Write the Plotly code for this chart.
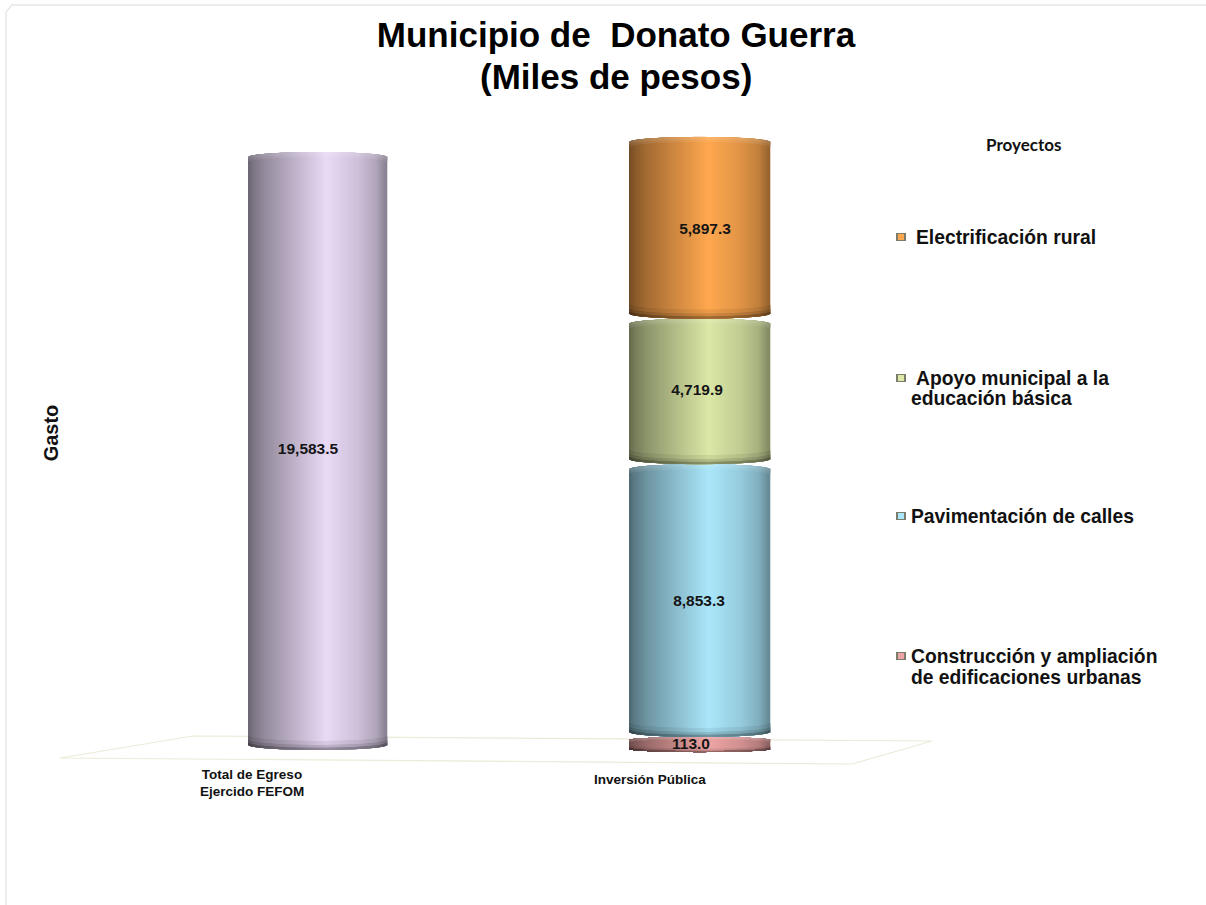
import numpy as np
import plotly.graph_objects as go

# ---------- data ----------
title_lines = ["Municipio de \u00a0Donato Guerra", "(Miles de pesos)"]
total_label = "Total de Egreso<br>Ejercido FEFOM"
public_label = "Inversión Pública"
total_value = 19583.5
project_values = [113.0, 8853.3, 4719.9, 5897.3]
project_colors = ["#eea4a4", "#aae7fb", "#dbe8a6", "#ffa84f"]
total_color = "#e9daf6"
legend_lines = [["Construcción y ampliación", "de edificaciones urbanas"],
                ["Pavimentación de calles"],
                ["Apoyo municipal a la", "educación básica"],
                ["Electrificación rural"]]

# ---------- layout helpers ----------
W, H = 1206, 905
L, R, T, B = 65, 36, 102, 141
K = 0.03082                 # px per unit
Y0_PX = 740.5               # px position of zero
X0_PX, X_UNIT = 318, 382    # px of first column and px per category
ARC = 5.0                   # px, curvature of the cylinder ends
PROFILE_T = [0, .04, .12, .3, .57, .8, .93, 1]
PROFILE_V = [.46, .54, .64, .79, 1.0, .88, .76, .60]


def px(xp):
    return (xp - L) / (W - L - R)


def py(yp):
    return (H - B - yp) / (H - T - B)


def hex_rgb(c):
    return np.array([int(c[i:i + 2], 16) for i in (1, 3, 5)], float)


def shade(c, strip, gain, white=0.0):
    rgb = hex_rgb(c)
    out = []
    for u in strip:
        v = np.interp((u + 1) / 2, PROFILE_T, PROFILE_V) * gain
        p = np.clip(rgb * v * (1 - white) + 255 * white, 0, 255).astype(int)
        out.append(f"rgb({p[0]},{p[1]},{p[2]})")
    return out


def cylinder(fig, cx, w_px, lo, hi, color):
    n = int(w_px)
    strip = np.linspace(-1, 1, n)
    h_px = (hi - lo) * K
    f = min(1.0, h_px / 40)
    r = ARC * max(f, .6) * (1 - np.sqrt(1 - strip ** 2 * .995)) / K
    xs = cx + strip * (w_px / 2 - .5) / X_UNIT
    sw = 1.6 / X_UNIT
    X, BASE, Y, C = [], [], [], []

    def add(base, height, col):
        X.extend(xs); BASE.extend(base); Y.extend(height); C.extend(col)

    add(lo + r, hi - lo - 2 * r, shade(color, strip, 1))
    add(hi - r - 5 * f / K, np.full(n, 5 * f / K), shade(color, strip, 1.0, .07))
    add(hi - r - 2.5 * f / K, np.full(n, 2.5 * f / K), shade(color, strip, 1.0, .14))
    add(lo + r, np.full(n, 9 * f / K), shade(color, strip, .93))
    add(lo + r, np.full(n, 5 * f / K), shade(color, strip, .82))
    add(lo + r, np.full(n, 2.2 * f / K), shade(color, strip, .64))
    fig.add_trace(go.Bar(x=X, y=Y, base=BASE, width=sw, marker=dict(color=C, line=dict(width=0)),
                         showlegend=False, hoverinfo="skip", cliponaxis=False))


fig = go.Figure()

# first column: slightly further back in the perspective
SHIFT_1, SCALE_1 = -308.0, 0.9907
cylinder(fig, 0, 138, SHIFT_1, SHIFT_1 + total_value * SCALE_1, total_color)

# stacked column
edges = np.concatenate([[0], np.cumsum(project_values)])
MIN_PX = 15.0
for i, (v, c) in enumerate(zip(project_values, project_colors)):
    lo, hi = edges[i], edges[i + 1]
    if (hi - lo) * K < MIN_PX:
        lo = hi - MIN_PX / K
    cylinder(fig, 1.0, 140, lo, hi, c)

# value labels
LABEL_FONT = dict(family="Liberation Sans", size=15.5, color="#151515", weight="bold")
fig.add_trace(go.Scatter(
    x=[(308 - X0_PX) / X_UNIT], y=[SHIFT_1 + total_value * SCALE_1 / 2 + 1 / K], mode="text",
    text=[f"{total_value:,.1f}"], textfont=LABEL_FONT,
    showlegend=False, hoverinfo="skip", cliponaxis=False))
mids = (edges[:-1] + edges[1:]) / 2
label_nudge_px = [-6, -2, 0, -2]
label_dx_px = [-9, -1, -3, 5]
fig.add_trace(go.Scatter(
    x=[1.0 + d / X_UNIT for d in label_dx_px], y=[m + n / K for m, n in zip(mids, label_nudge_px)], mode="text",
    text=[f"{v:,.1f}" for v in project_values], textfont=LABEL_FONT,
    showlegend=False, hoverinfo="skip", cliponaxis=False))

# legend drawn as keys and text, entry by entry
LEGEND_FONT = dict(family="Liberation Sans", size=19.3, color="#111", weight="bold")
legend_x_px = [[909, 909], [909], [914, 909], [914]]
legend_y_px = [[656, 677], [516], [378, 398], [237]]
annotations = [dict(text="Proyectos", xref="paper", yref="paper", x=px(1023), y=py(145),
                    xanchor="center", yanchor="middle", showarrow=False,
                    font=dict(family="Lato", size=17, color="#111", weight="bold")),
               dict(text=title_lines[1], xref="paper", yref="paper", x=px(616), y=py(76),
                    xanchor="center", yanchor="middle", showarrow=False,
                    font=dict(family="Liberation Sans", size=35, color="black", weight="bold")),
               dict(text=public_label, xref="x", yref="paper", x=(650 - X0_PX) / X_UNIT, y=py(779),
                    xanchor="center", yanchor="middle", showarrow=False,
                    font=dict(family="Liberation Sans", size=13.5, color="#111", weight="bold"))]
shapes = [
    dict(type="path", xref="paper", yref="paper", layer="below",
         path=f"M {px(60)} {py(758)} L {px(193)} {py(736)} L {px(932)} {py(741)} L {px(852)} {py(764)} Z",
         line=dict(color="#ecead8", width=1.2)),
    dict(type="path", xref="paper", yref="paper", layer="below",
         path=f"M {px(6)} {py(905)} L {px(6)} {py(12)} L {px(12)} {py(5)} L {px(1206)} {py(5)}",
         line=dict(color="#e6e6e6", width=1.4)),
]
for lines, xs, ys, c in zip(legend_lines, legend_x_px, legend_y_px, project_colors):
    for text, xp, yp in zip(lines, xs, ys):
        annotations.append(dict(text=text, xref="paper", yref="paper", x=px(xp), y=py(yp),
                                xanchor="left", yanchor="middle", showarrow=False, font=LEGEND_FONT))
    ky = ys[0]
    shapes.append(dict(type="rect", xref="paper", yref="paper", x0=px(896), x1=px(906), y0=py(ky + 4), y1=py(ky - 4),
                       fillcolor="#7c7c6c", line=dict(width=0)))
    shapes.append(dict(type="rect", xref="paper", yref="paper", x0=px(898), x1=px(904), y0=py(ky + 3), y1=py(ky - 3),
                       fillcolor=c, line=dict(width=0)))

fig.update_layout(
    width=W, height=H, autosize=False, barmode="overlay",
    paper_bgcolor="white", plot_bgcolor="rgba(0,0,0,0)",
    margin=dict(l=L, r=R, t=T, b=B, autoexpand=False),
    title=dict(text=title_lines[0], x=616 / W, xanchor="center", y=1 - 35 / H, yanchor="middle",
               font=dict(family="Liberation Sans", size=35, color="black", weight="bold")),
    xaxis=dict(range=[(L - X0_PX) / X_UNIT, (W - R - X0_PX) / X_UNIT], showgrid=False, zeroline=False,
               showline=False, ticks="", tickvals=[(252 - X0_PX) / X_UNIT],
               ticktext=[total_label],
               tickfont=dict(family="Liberation Sans", size=13.5, color="#111", weight="bold")),
    yaxis=dict(range=[(Y0_PX - (H - B)) / K, (Y0_PX - T) / K], showgrid=False, zeroline=False, showline=False,
               showticklabels=False, ticks="",
               title=dict(text="Gasto", standoff=0,
                          font=dict(family="Liberation Sans", size=20, color="#111", weight="bold"))),
    annotations=annotations,
    shapes=shapes,
    showlegend=False,
)

fig.write_html("out.html", config={"displayModeBar": False},
               post_script="document.body.style.margin='0';document.documentElement.style.overflow='hidden';")
